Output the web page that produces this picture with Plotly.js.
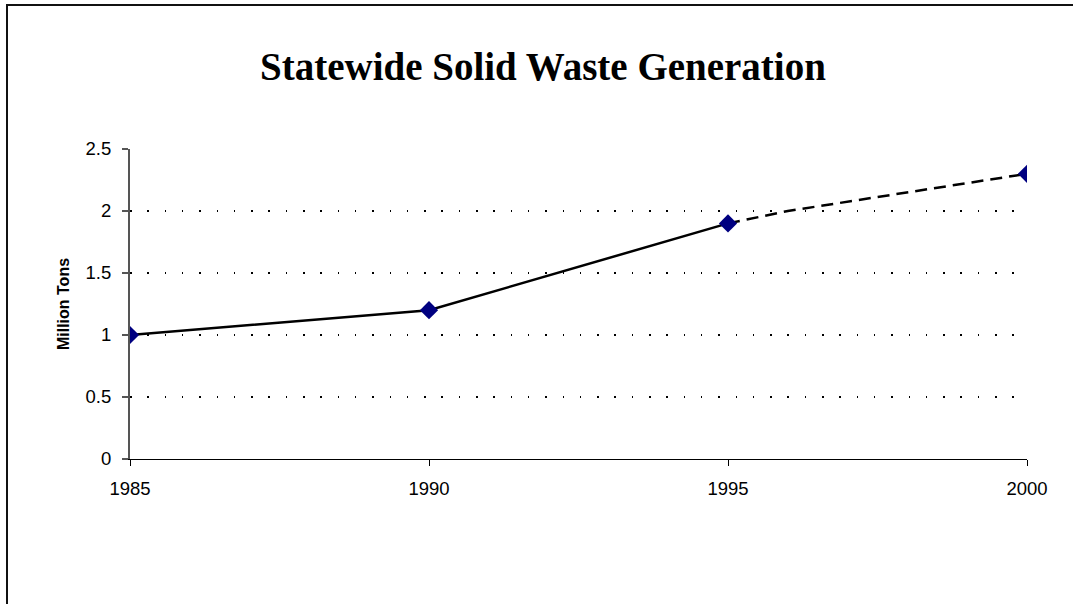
<!DOCTYPE html>
<html>
<head>
<meta charset="utf-8">
<script src="https://cdn.plot.ly/plotly-3.0.1.min.js"></script>
<style>
  html, body { margin: 0; padding: 0; background: #fff; overflow: hidden; }
  #chart { width: 1073px; height: 604px; position: absolute; left: 0; top: 0; }
  #frame { position: absolute; left: 6px; top: 4px; width: 1200px; height: 800px;
           border-left: 2px solid #111; border-top: 2px solid #111; pointer-events: none; }
</style>
</head>
<body>
<div id="chart"></div>
<div id="frame"></div>
<script>
// Data
const actualYears = [1985, 1990, 1995];
const actualValues = [1.0, 1.2, 1.9];
const projectedYears = [1995, 1996, 2000];
const projectedValues = [1.9, 2.0, 2.3];
const markerYears = [1985, 1990, 1995, 2000];
const markerValues = [1.0, 1.2, 1.9, 2.3];
const xTicks = [1985, 1990, 1995, 2000];
const yTicks = [0, 0.5, 1, 1.5, 2, 2.5];
const gridTicks = [0.5, 1, 1.5, 2];

const traces = [
  { x: [1985], y: [0], yaxis: 'y2', mode: 'markers', marker: { opacity: 0 }, hoverinfo: 'skip' },
  { x: actualYears, y: actualValues, mode: 'lines', type: 'scatter',
    line: { color: '#000', width: 2.5 }, hoverinfo: 'skip' },
  { x: projectedYears, y: projectedValues, mode: 'lines', type: 'scatter',
    line: { color: '#000', width: 2.5, dash: '12px,7px' }, hoverinfo: 'skip' },
  { x: markerYears, y: markerValues, mode: 'markers', type: 'scatter',
    marker: { symbol: 'diamond', color: '#000080', size: 14, line: { width: 0 } } }
];

const layout = {
  width: 1073, height: 604,
  paper_bgcolor: '#fff', plot_bgcolor: '#fff',
  showlegend: false,
  margin: { l: 130, r: 46, t: 149, b: 145 },
  title: {
    text: '<b>Statewide Solid Waste Generation</b>',
    font: { family: 'Liberation Serif, Times New Roman, serif', size: 39, color: '#000' },
    x: 0.506, xanchor: 'center', y: 1 - 66 / 604, yanchor: 'middle', yref: 'container'
  },
  xaxis: {
    range: [1985, 2000], tickvals: xTicks, ticktext: xTicks.map(String),
    showgrid: false, zeroline: false, showline: true, linecolor: '#000', linewidth: 1,
    ticks: 'outside', ticklen: 6, tickcolor: '#000', tickwidth: 1,
    ticklabelstandoff: 7,
    tickfont: { family: 'Liberation Sans, Arial, sans-serif', size: 18.5, color: '#000' }
  },
  yaxis: {
    range: [0, 2.5], tickvals: yTicks, ticktext: yTicks.map(String),
    showgrid: false, zeroline: false, showline: true, linecolor: '#555', linewidth: 2,
    ticks: 'outside', ticklen: 6, tickcolor: '#555', tickwidth: 1.5,
    ticklabelstandoff: 7,
    tickfont: { family: 'Liberation Sans, Arial, sans-serif', size: 18.5, color: '#000' },
    title: { text: '<b>Million Tons</b>', standoff: 12,
      font: { family: 'Liberation Sans, Arial, sans-serif', size: 16, color: '#000' } }
  },
  yaxis2: {
    overlaying: 'y', range: [0, 2.5], tickvals: gridTicks, showticklabels: false,
    showgrid: true, gridcolor: '#000', gridwidth: 1.5, griddash: '1.5px,15.8px',
    zeroline: false, showline: false, ticks: ''
  }
};

Plotly.newPlot('chart', traces, layout, { staticPlot: true });
</script>
</body>
</html>
